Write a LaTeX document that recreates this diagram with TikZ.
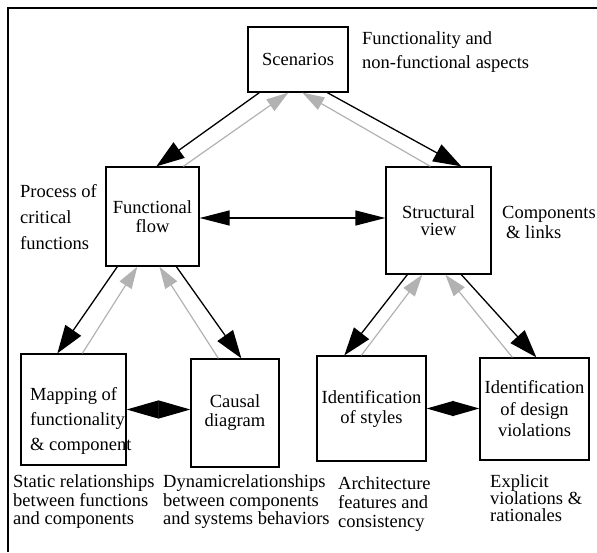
\documentclass[tikz,border=0pt]{standalone}
\usepackage{fontspec}
\setmainfont{Liberation Serif}
\usetikzlibrary{arrows.meta}
\definecolor{backgray}{gray}{0.7}
\tikzset{
	lsp/.style={font=\fontsize{18.5}{#1}\selectfont},
	box/.style={draw, line width=1.3pt, inner sep=0pt, align=center},
	note/.style={inner sep=0pt, align=left, anchor=north west},
	fwd/.style={line width=1.3pt, -{Triangle[length=28pt,width=19pt]}},
	back/.style={line width=1.2pt, color=backgray, -{Triangle[length=22pt,width=14pt]}},
	both/.style={line width=1.3pt, {Triangle[#1]}-{Triangle[#1]}}
}
\begin{document}
\begin{tikzpicture}[x=1pt,y=-1pt,lsp=19]
	\useasboundingbox (0,0) rectangle (597,552);
	\draw[line width=1.3pt] (8,552) -- (8,8) -- (597,8);

	% boxes
	\node[box,minimum width=100pt,minimum height=65pt] (scen) at (298,59.5) {Scenarios};
	\node[box,lsp=19,minimum width=93pt,minimum height=99pt] (fflow) at (152.5,216.5) {Functional\\flow};
	\node[box,lsp=17,minimum width=105pt,minimum height=107pt] (sview) at (438.5,220.5) {Structural\\view};
	\node[box,minimum width=105pt,minimum height=111pt] (mapping) at (73.5,409.5) {};
	\node[note,lsp=25] (maptext) at (30,387.5) {Mapping of\\functionality\\\& component};
	\node[box,lsp=19,minimum width=88pt,minimum height=108pt] (causal) at (235,413) {Causal\\diagram};
	\node[box,lsp=20,minimum width=109pt,minimum height=105pt] (styles) at (371.5,408.5) {Identification\\of styles};
	\node[box,lsp=21.5,minimum width=109pt,minimum height=102pt] (violations) at (534.5,409) {Identification\\of design\\violations};

	% side notes
	\node[note,lsp=24] (nscen) at (362,31.5) {Functionality and\\non-functional aspects};
	\node[note,lsp=26] (nfflow) at (20,184.5) {Process of\\critical\\functions};
	\node[note,lsp=20.5] (nsview) at (502,206) {Components\\\hspace*{4pt}\& links};
	\node[note,lsp=18.5] (nmap) at (13,474.5) {Static relationships\\between functions\\and components};
	\node[note,lsp=18.5] (ncausal) at (163,474.5) {Dynamicrelationships\\between components\\and systems behaviors};
	\node[note,lsp=19] (nstyles) at (338,476.5) {Architecture\\features and\\consistency};
	\node[note,lsp=17] (nviol) at (490,474) {Explicit\\violations \&\\rationales};

	% top level
	\draw[fwd] ([xshift=12pt]scen.south west) -- ([xshift=51pt]fflow.north west);
	\draw[back] ([xshift=78pt]fflow.north west) -- ([xshift=41pt]scen.south west);
	\draw[fwd] ([xshift=80pt]scen.south west) -- ([xshift=76pt]sview.north west);
	\draw[back] ([xshift=45pt]sview.north west) -- ([xshift=55pt]scen.south west);
	\draw[both={length=30pt,width=15pt}] ([yshift=-1.5pt]fflow.east) -- ([yshift=-1.5pt]fflow.east -| sview.west);

	% functional flow
	\draw[fwd] ([xshift=12pt]fflow.south west) -- ([xshift=37pt]mapping.north west);
	\draw[back] ([xshift=62pt]mapping.north west) -- ([xshift=32pt]fflow.south west);
	\draw[back] ([xshift=28pt]causal.north west) -- ([xshift=54pt]fflow.south west);
	\draw[fwd] ([xshift=71pt]fflow.south west) -- ([xshift=51pt]causal.north west);
	\draw[both={length=32pt,width=18pt}] (mapping.east) -- (mapping.east -| causal.west);

	% structural view
	\draw[fwd] ([xshift=22pt]sview.south west) -- ([xshift=28pt]styles.north west);
	\draw[back] ([xshift=45pt]styles.north west) -- ([xshift=37pt]sview.south west);
	\draw[back] ([xshift=33pt]violations.north west) -- ([xshift=60pt]sview.south west);
	\draw[fwd] ([xshift=76pt]sview.south west) -- ([xshift=57pt]violations.north west);
	\draw[both={length=27pt,width=15pt}] (styles.east) -- (styles.east -| violations.west);
\end{tikzpicture}
\end{document}
